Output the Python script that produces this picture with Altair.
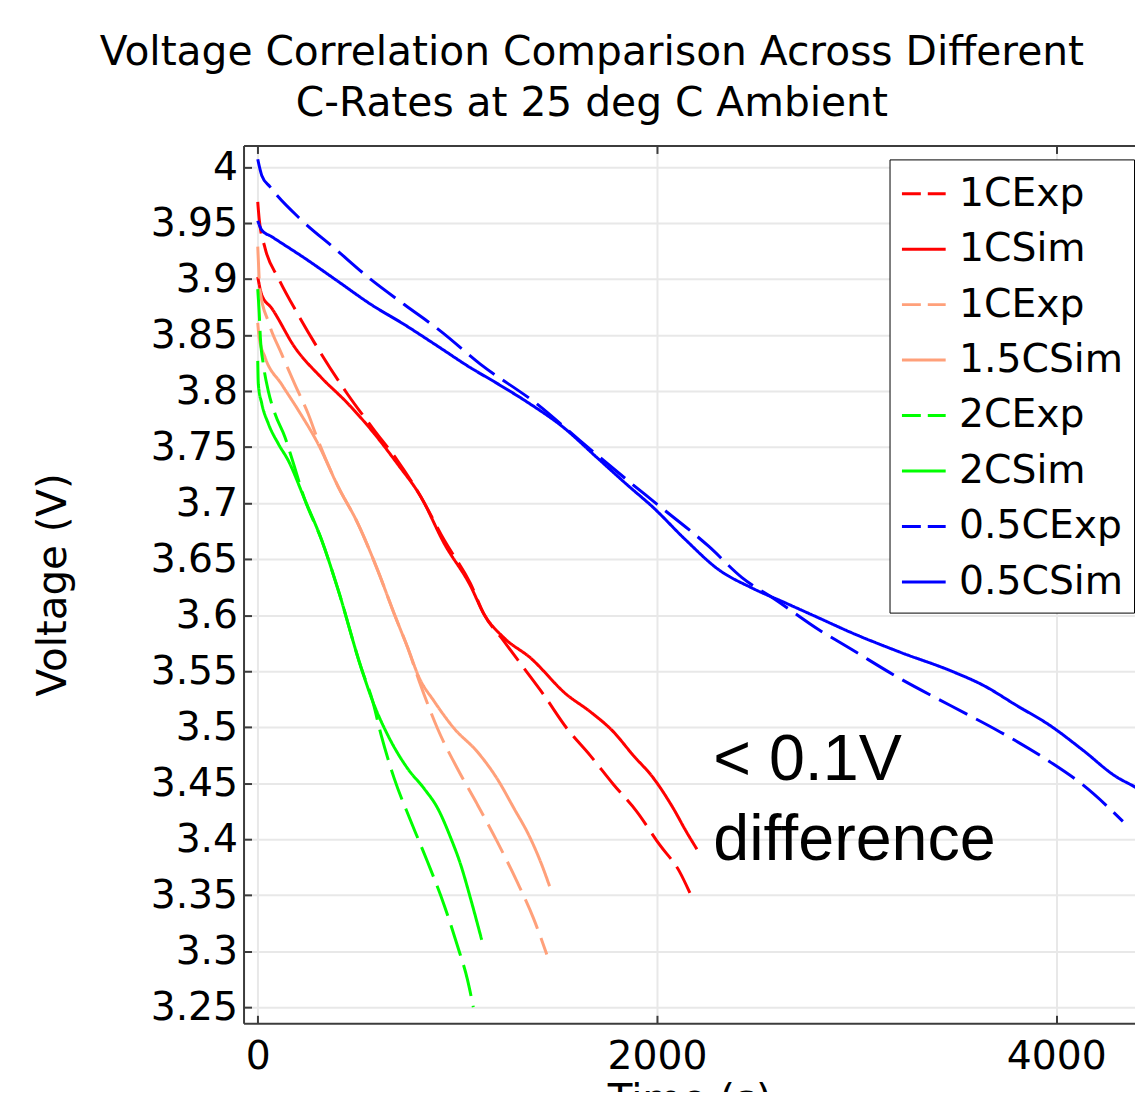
import altair as alt
import pandas as pd

# ---------------- data ----------------
series_order = ["1CExp", "1CSim", "1.5CExp", "1.5CSim", "2CExp", "2CSim", "0.5CExp", "0.5CSim"]
series_colors = ["#ff0000", "#ff0000", "#ffa07a", "#ffa07a", "#00ff00", "#00ff00", "#0000ff", "#0000ff"]

t_1c_exp = [0, 7, 37, 103, 203, 319, 451, 584, 700, 816, 934, 1066, 1133, 1232, 1332, 1432, 1548, 1664, 1781, 1897, 2013, 2113, 2165]
v_1c_exp = [3.969, 3.954, 3.9275, 3.901, 3.868, 3.833, 3.797, 3.765, 3.738, 3.706, 3.667, 3.628, 3.601, 3.577, 3.553, 3.529, 3.499, 3.475, 3.449, 3.425, 3.395, 3.371, 3.352]

t_1c_sim = [0, 20, 70, 186, 319, 451, 584, 700, 816, 934, 1066, 1133, 1232, 1365, 1548, 1664, 1781, 1880, 1980, 2080, 2146, 2200]
v_1c_sim = [3.902, 3.886, 3.874, 3.839, 3.812, 3.789, 3.762, 3.735, 3.706, 3.664, 3.626, 3.601, 3.580, 3.562, 3.529, 3.514, 3.496, 3.475, 3.455, 3.428, 3.407, 3.391]

t_15c_exp = [0, 12, 53, 120, 186, 252, 302, 402, 501, 601, 684, 751, 809, 900, 1000, 1100, 1199, 1299, 1382, 1448]
v_15c_exp = [3.929, 3.889, 3.862, 3.833, 3.806, 3.780, 3.756, 3.715, 3.682, 3.640, 3.601, 3.571, 3.541, 3.499, 3.463, 3.431, 3.398, 3.362, 3.329, 3.297]

t_15c_sim = [0, 7, 37, 120, 203, 302, 402, 501, 601, 684, 751, 809, 884, 983, 1100, 1199, 1282, 1365, 1423, 1462]
v_15c_sim = [3.861, 3.848, 3.830, 3.806, 3.783, 3.753, 3.715, 3.682, 3.640, 3.601, 3.571, 3.544, 3.523, 3.499, 3.478, 3.454, 3.428, 3.401, 3.377, 3.358]

t_2c_exp = [0, 7, 13, 28, 53, 86, 136, 169, 236, 320, 402, 518, 576, 618, 684, 767, 850, 934, 1000, 1050, 1080]
v_2c_exp = [3.891, 3.871, 3.848, 3.824, 3.800, 3.780, 3.759, 3.741, 3.703, 3.667, 3.623, 3.553, 3.523, 3.493, 3.454, 3.416, 3.380, 3.341, 3.305, 3.275, 3.250]

t_2c_sim = [0, 3, 20, 53, 103, 153, 236, 320, 402, 518, 576, 651, 751, 834, 900, 967, 1017, 1066, 1122]
v_2c_sim = [3.827, 3.806, 3.789, 3.771, 3.753, 3.738, 3.703, 3.667, 3.623, 3.553, 3.523, 3.493, 3.463, 3.445, 3.428, 3.401, 3.377, 3.347, 3.310]

t_05c_exp = [0, 20, 62, 219, 385, 568, 734, 916, 1115, 1398, 1613, 1862, 1995, 2260, 2426, 2592, 2807, 2972, 3221, 3470, 3719, 3968, 4134, 4334]
v_05c_exp = [4.007, 3.9926, 3.9823, 3.9527, 3.9275, 3.8995, 3.8773, 3.8536, 3.8241, 3.7886, 3.7560, 3.7190, 3.6998, 3.6613, 3.6335, 3.6140, 3.5874, 3.5697, 3.5430, 3.5193, 3.4957, 3.4691, 3.4484, 3.4159]

t_05c_sim = [0, 20, 70, 236, 402, 568, 734, 900, 1065, 1198, 1364, 1530, 1696, 1862, 1977, 2143, 2309, 2474, 2641, 2807, 2972, 3221, 3470, 3637, 3802, 3968, 4134, 4300, 4391, 4435]
v_05c_sim = [3.9521, 3.9438, 3.9379, 3.9186, 3.8980, 3.8773, 3.8595, 3.8403, 3.8210, 3.8070, 3.7886, 3.7678, 3.7412, 3.7146, 3.6968, 3.6673, 3.6406, 3.6244, 3.6111, 3.5978, 3.5845, 3.5667, 3.5504, 3.5371, 3.5193, 3.5016, 3.4794, 3.4558, 3.4469, 3.4423]

x_ticks = [0, 2000, 4000]
y_ticks = [3.25, 3.3, 3.35, 3.4, 3.45, 3.5, 3.55, 3.6, 3.65, 3.7, 3.75, 3.8, 3.85, 3.9, 3.95, 4.0]
x_domain = [-71.2, 4394.8]
y_domain = [3.2356, 4.0193]

note_lines = ["< 0.1V", "difference"]
note_t = [2282, 2282]
note_v = [3.4528, 3.3818]

title_lines = ["Voltage Correlation Comparison Across Different", "C-Rates at 25 deg C Ambient"]

# ---------------- build tables ----------------
series_data = [
    ("1CExp", t_1c_exp, v_1c_exp), ("1CSim", t_1c_sim, v_1c_sim),
    ("1.5CExp", t_15c_exp, v_15c_exp), ("1.5CSim", t_15c_sim, v_15c_sim),
    ("2CExp", t_2c_exp, v_2c_exp), ("2CSim", t_2c_sim, v_2c_sim),
    ("0.5CExp", t_05c_exp, v_05c_exp), ("0.5CSim", t_05c_sim, v_05c_sim),
]
rows = []
for name, ts, vs in series_data:
    kind = "Exp" if name.endswith("Exp") else "Sim"
    for t, v in zip(ts, vs):
        rows.append({"series": name, "kind": kind, "t": t, "v": v})
df = pd.DataFrame(rows)
note_df = pd.DataFrame({"t": note_t, "v": note_v, "label": note_lines})

x_scale = alt.Scale(domain=x_domain, nice=False, zero=False)
y_scale = alt.Scale(domain=y_domain, nice=False, zero=False)

AX = "#3c3c3c"

main = alt.Chart(df).mark_line(strokeWidth=3, clip=True, interpolate="monotone").encode(
    x=alt.X("t:Q", scale=x_scale,
            axis=alt.Axis(orient="bottom", values=x_ticks, title="Time (s)", format="d",
                          grid=True, ticks=False, tickSize=0, domain=True,
                          labelPadding=15, titlePadding=4)),
    y=alt.Y("v:Q", scale=y_scale,
            axis=alt.Axis(orient="left", values=y_ticks, title="Voltage (V)", format=".2~f",
                          grid=True, ticks=False, tickSize=0, domain=True,
                          labelPadding=6, titlePadding=76)),
    color=alt.Color("series:N", scale=alt.Scale(domain=series_order, range=series_colors), legend=None),
    strokeDash=alt.StrokeDash("kind:N", scale=alt.Scale(domain=["Exp", "Sim"], range=[[32, 10], [1, 0]]), legend=None),
    detail="series:N",
)


def axis_layer(xaxis, yaxis):
    return alt.Chart(note_df).mark_point(opacity=0).encode(
        x=alt.X("t:Q", scale=x_scale, axis=xaxis),
        y=alt.Y("v:Q", scale=y_scale, axis=yaxis),
    )


ticks_in = axis_layer(
    alt.Axis(orient="bottom", values=x_ticks, labels=False, domain=False, grid=False,
             ticks=True, tickSize=8, offset=-8, title=None),
    alt.Axis(orient="left", values=y_ticks, labels=False, domain=False, grid=False,
             ticks=True, tickSize=8, offset=-8, title=None),
)
top_border = axis_layer(
    alt.Axis(orient="top", labels=False, domain=True, grid=False, ticks=False, tickSize=0, title=None),
    None,
)
top_ticks = axis_layer(
    alt.Axis(orient="top", values=x_ticks, labels=False, domain=False, grid=False,
             ticks=True, tickSize=8, offset=-8, title=None),
    None,
)

note = alt.Chart(note_df).mark_text(
    font="Liberation Sans", fontSize=65, align="left", baseline="alphabetic", color="black"
).encode(
    x=alt.X("t:Q", scale=x_scale, axis=None),
    y=alt.Y("v:Q", scale=y_scale, axis=None),
    text="label:N",
)

legend_def = dict(
    orient="none", legendX=650, legendY=14, title=None,
    fillColor="white", strokeColor="black", padding=11,
    symbolType="stroke", symbolSize=1936, symbolStrokeWidth=3,
    labelFont="DejaVu Sans", labelFontSize=39.5, labelColor="black",
    labelOffset=12, rowPadding=12.8, labelLimit=400,
    labelExpr="datum.label == '1.5CExp' ? '1CExp' : datum.label",
)
legend_dashes = [[19, 7], [1, 0]] * 4

legend_layer = alt.Chart(df).transform_filter("false").mark_line(strokeWidth=3).encode(
    x=alt.X("t:Q", scale=x_scale, axis=None),
    y=alt.Y("v:Q", scale=y_scale, axis=None),
    color=alt.Color("series:N", scale=alt.Scale(domain=series_order, range=series_colors),
                    legend=alt.Legend(**legend_def)),
    strokeDash=alt.StrokeDash("series:N", scale=alt.Scale(domain=series_order, range=legend_dashes),
                              legend=alt.Legend(**legend_def)),
)

chart = alt.layer(main, ticks_in, top_border, top_ticks, note, legend_layer).resolve_scale(
    color="independent", strokeDash="independent"
).resolve_axis(
    x="independent", y="independent"
).properties(
    width=897, height=883.2,
    padding={"left": 237, "top": 135, "right": 0, "bottom": 66},
    autosize=alt.AutoSizeParams(type="none"),
    title=alt.TitleParams(
        text=title_lines, font="DejaVu Sans", fontSize=41, fontWeight="normal",
        lineHeight=51.5, anchor="middle", dx=-98, offset=20, color="black",
    ),
).configure(
    font="DejaVu Sans"
).configure_axis(
    labelFont="DejaVu Sans", labelFontSize=39.5, labelColor="black",
    titleFont="DejaVu Sans", titleFontSize=40.6, titleFontWeight="normal", titleColor="black",
    gridColor="#e8e8e8", gridWidth=2,
    domainColor=AX, domainWidth=2, tickColor=AX, tickWidth=2,
).configure_view(stroke="transparent")

chart.save("out.html", embed_options={"renderer": "svg", "actions": False})
